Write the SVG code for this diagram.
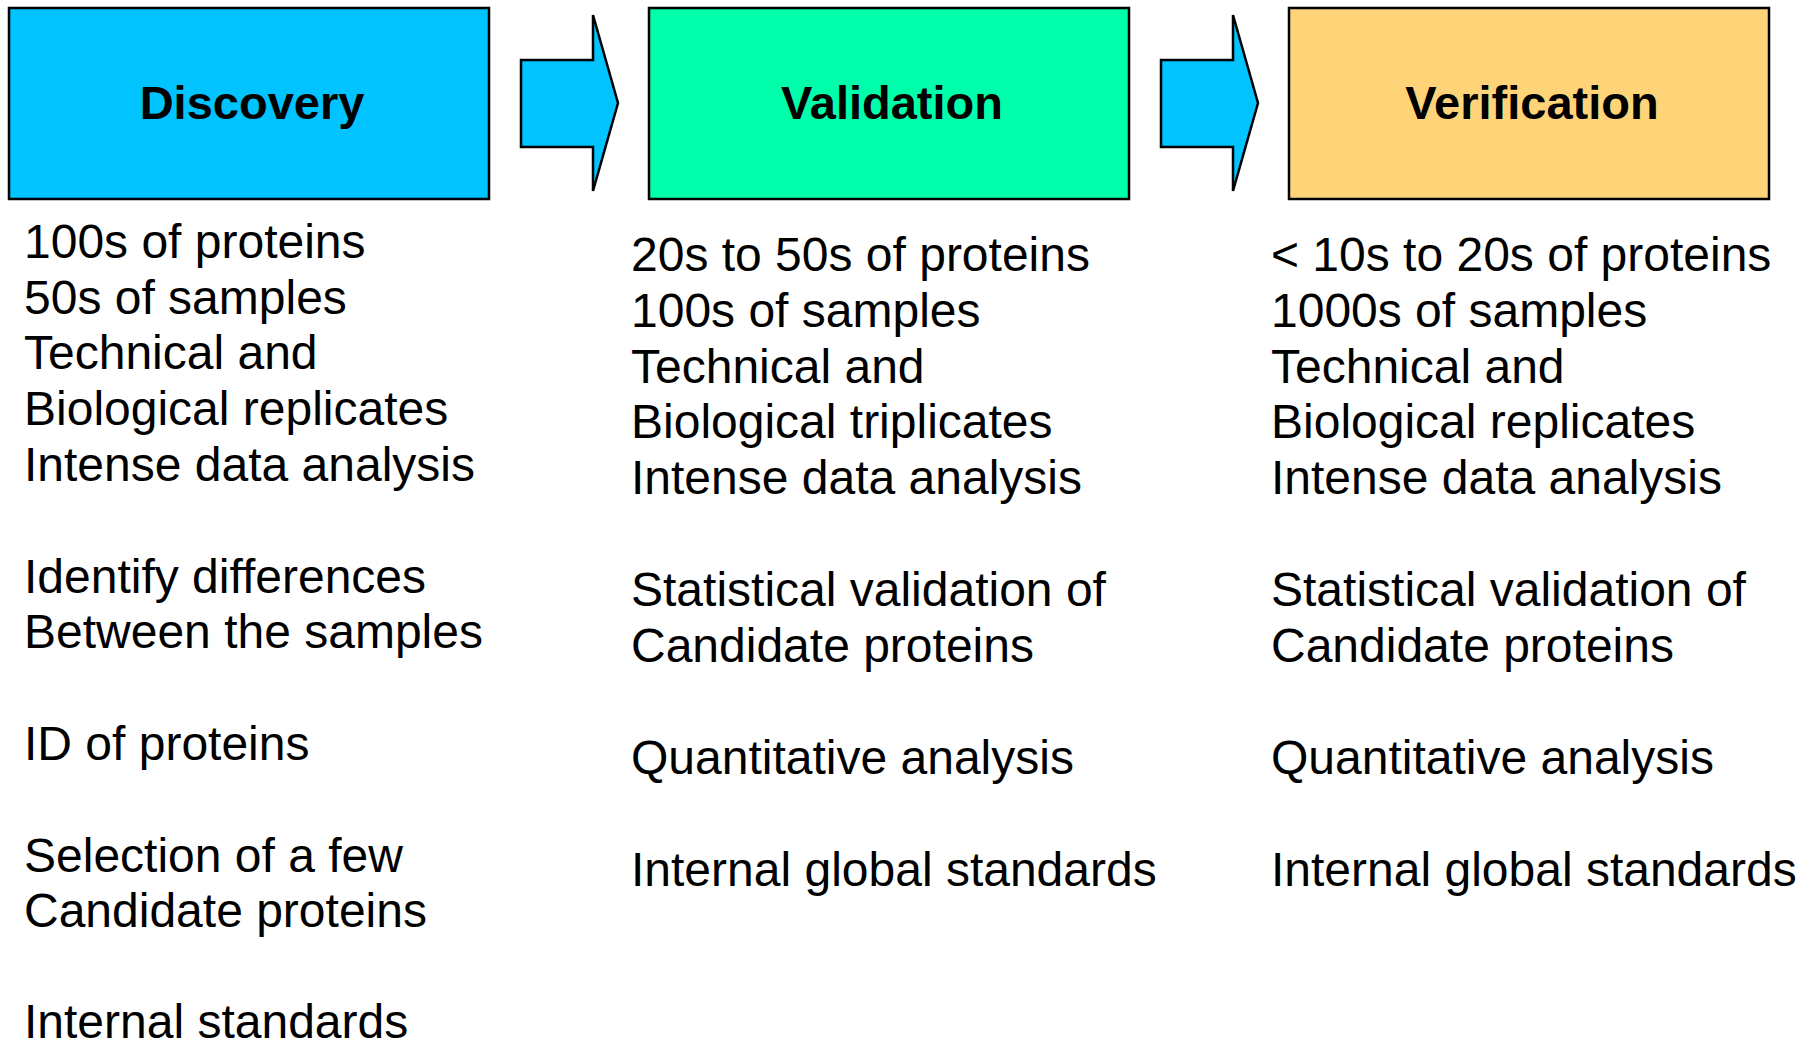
<svg xmlns="http://www.w3.org/2000/svg" width="1811" height="1044" viewBox="0 0 1811 1044">
  <style>
    .box { stroke: #000; stroke-width: 2.5; }
    .title { font-family: "Liberation Sans", Arial, sans-serif; font-weight: bold; font-size: 47px; fill: #000; text-anchor: middle; }
    .body { font-family: "Liberation Sans", Arial, sans-serif; font-size: 48px; fill: #000; }
    .arrow { fill: #00C3FF; stroke: #000; stroke-width: 2.5; stroke-linejoin: miter; }
  </style>
  <defs>
    <!-- block arrow pointing right, origin at left edge of the shaft -->
    <path id="blockArrow" d="M0,60 L72,60 L72,15 L97,103 L72,191 L72,147 L0,147 Z"/>
  </defs>
  <rect width="1811" height="1044" fill="#fff"/>

  <g id="connectors">
    <use href="#blockArrow" class="arrow" x="521"/>
    <use href="#blockArrow" class="arrow" x="1161"/>
  </g>

  <g id="discovery">
    <rect class="box" x="9" y="8" width="480" height="191" fill="#00C3FF"/>
    <text class="title" x="252" y="119">Discovery</text>
    <text class="body">
      <tspan x="24" y="258">100s of proteins</tspan>
      <tspan x="24" y="314">50s of samples</tspan>
      <tspan x="24" y="369">Technical and</tspan>
      <tspan x="24" y="425">Biological replicates</tspan>
      <tspan x="24" y="481">Intense data analysis</tspan>
      <tspan x="24" y="593">Identify differences</tspan>
      <tspan x="24" y="648">Between the samples</tspan>
      <tspan x="24" y="760">ID of proteins</tspan>
      <tspan x="24" y="872">Selection of a few</tspan>
      <tspan x="24" y="927">Candidate proteins</tspan>
      <tspan x="24" y="1038">Internal standards</tspan>
    </text>
  </g>

  <g id="validation">
    <rect class="box" x="649" y="8" width="480" height="191" fill="#00FFAA"/>
    <text class="title" x="892" y="119">Validation</text>
    <text class="body">
      <tspan x="631" y="271">20s to 50s of proteins</tspan>
      <tspan x="631" y="327">100s of samples</tspan>
      <tspan x="631" y="383">Technical and</tspan>
      <tspan x="631" y="438">Biological triplicates</tspan>
      <tspan x="631" y="494">Intense data analysis</tspan>
      <tspan x="631" y="606">Statistical validation of</tspan>
      <tspan x="631" y="662">Candidate proteins</tspan>
      <tspan x="631" y="774">Quantitative analysis</tspan>
      <tspan x="631" y="886">Internal global standards</tspan>
    </text>
  </g>

  <g id="verification">
    <rect class="box" x="1289" y="8" width="480" height="191" fill="#FFD479"/>
    <text class="title" x="1532" y="119">Verification</text>
    <text class="body">
      <tspan x="1271" y="271">&lt; 10s to 20s of proteins</tspan>
      <tspan x="1271" y="327">1000s of samples</tspan>
      <tspan x="1271" y="383">Technical and</tspan>
      <tspan x="1271" y="438">Biological replicates</tspan>
      <tspan x="1271" y="494">Intense data analysis</tspan>
      <tspan x="1271" y="606">Statistical validation of</tspan>
      <tspan x="1271" y="662">Candidate proteins</tspan>
      <tspan x="1271" y="774">Quantitative analysis</tspan>
      <tspan x="1271" y="886">Internal global standards</tspan>
    </text>
  </g>
</svg>
